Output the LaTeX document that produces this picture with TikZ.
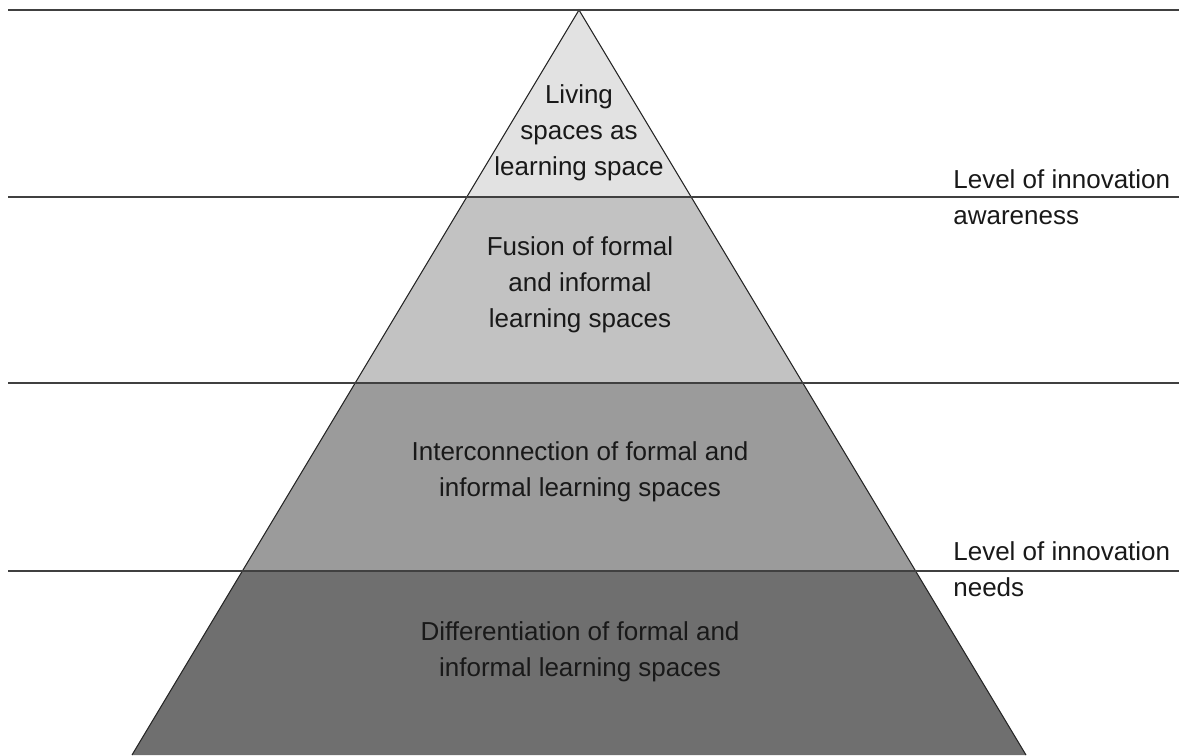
\documentclass[tikz,border=0pt]{standalone}
\usepackage{fontspec}
\setmainfont{Liberation Sans}
\definecolor{tier1}{HTML}{E2E2E2}
\definecolor{tier2}{HTML}{C2C2C2}
\definecolor{tier3}{HTML}{9B9B9B}
\definecolor{tier4}{HTML}{6F6F6F}
\begin{document}
\begin{tikzpicture}[x=0.02cm,y=-0.02cm,
    rule/.style={line width=1.1pt,black!75},
    edge/.style={line width=0.6pt,black!85},
    tiertext/.style={align=center,font=\fontsize{14.8}{20.5}\selectfont,text=black!90},
    sidetext/.style={tiertext,align=left,anchor=west,inner sep=0pt}]
  \useasboundingbox (0,0) rectangle (1179,755);
  % corners of the pyramid on each rule
  \coordinate (apex) at (579,10);
  \coordinate (l1) at (466.8,197);
  \coordinate (r1) at (691.2,197);
  \coordinate (l2) at (355.2,383);
  \coordinate (r2) at (802.8,383);
  \coordinate (l3) at (242.4,571);
  \coordinate (r3) at (915.6,571);
  \coordinate (l4) at (132,755);
  \coordinate (r4) at (1026,755);
  \fill[tier1] (apex) -- (l1) -- (r1) -- cycle;
  \fill[tier2] (l1) -- (l2) -- (r2) -- (r1) -- cycle;
  \fill[tier3] (l2) -- (l3) -- (r3) -- (r2) -- cycle;
  \fill[tier4] (l3) -- (l4) -- (r4) -- (r3) -- cycle;
  \draw[edge] (l4) -- (apex) -- (r4);
  % rules across the page
  \draw[rule]
    (8,10) coordinate (a0) -- (1179,10) coordinate (b0)
    (8,197) coordinate (a1) -- (1179,197) coordinate (b1)
    (8,383) coordinate (a2) -- (1179,383) coordinate (b2)
    (8,571) coordinate (a3) -- (1179,571) coordinate (b3);
  % tier labels
  \draw
    (579,133) node[tiertext] (living) {Living\\spaces as\\learning space}
    (580,285) node[tiertext] (fusion) {Fusion of formal\\and informal\\learning spaces}
    (580,472) node[tiertext] (inter) {Interconnection of formal and\\informal learning spaces}
    (580,652) node[tiertext] (diff) {Differentiation of formal and\\informal learning spaces};
  \draw
    (953,197) node[sidetext] (aware) {Level of innovation\\awareness}
    (953,569) node[sidetext] (needs) {Level of innovation\\needs};
\end{tikzpicture}
\end{document}
